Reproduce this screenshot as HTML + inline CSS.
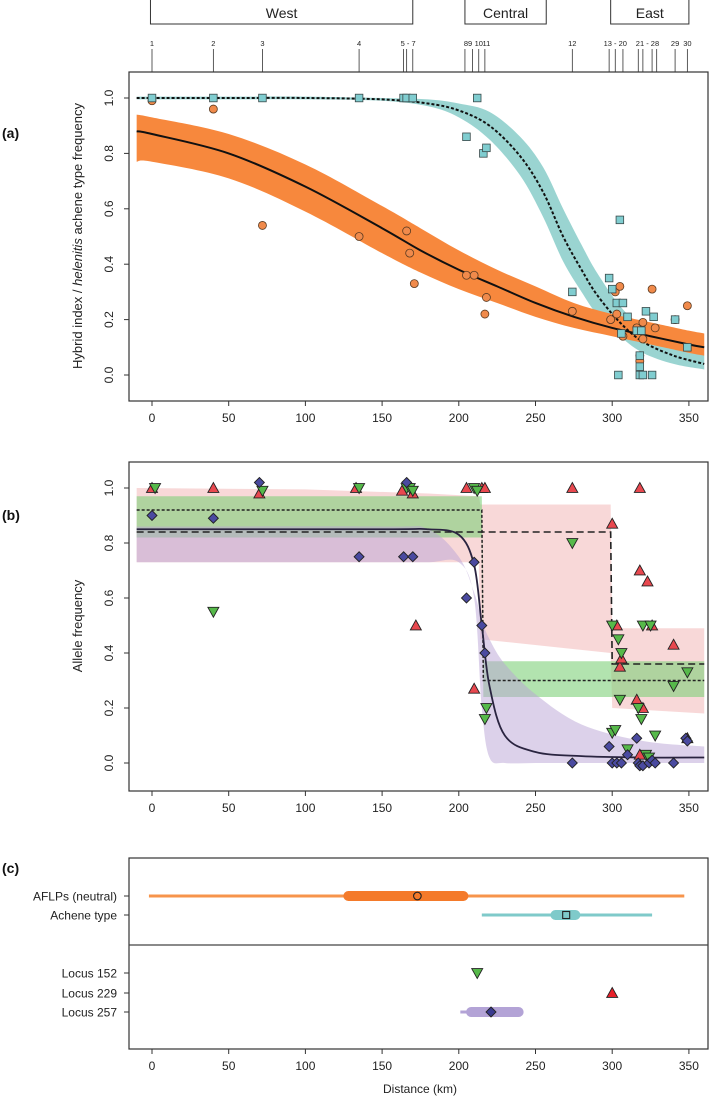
<!DOCTYPE html>
<html><head><meta charset="utf-8"><style>
body{margin:0;background:#fff;}
svg{display:block;font-family:"Liberation Sans",sans-serif;}
</style></head><body>
<svg id="fig" width="709" height="1104" viewBox="0 0 709 1104" xmlns="http://www.w3.org/2000/svg"></svg>
<script>
// ---------- data ----------
const siteKm = [0,40,72,135,164,166,170,204,209,213,217,274,298,302,307,317,320,326,329,341,349];
const siteLabels = [["1",0],["2",40],["3",72],["4",135],["5 - 7",167],["89",206],["10",213],["11",218],["12",274],["13 - 20",302],["21 - 28",323],["29",341],["30",349]];
const regions = [["West",-1,170],["Central",204,257],["East",299,350]];
const xTicks = [0,50,100,150,200,250,300,350];
const yTicks = [0,0.2,0.4,0.6,0.8,1.0];

const aflpX = [0,40,72,135,166,168,171,205,210,217,218,274,299,302,305,307,318,318,320,320,326,328,341,349,303,316];
const aflpY = [0.99,0.96,0.54,0.50,0.52,0.44,0.33,0.36,0.36,0.22,0.28,0.23,0.20,0.30,0.32,0.14,0.07,0.05,0.13,0.19,0.31,0.17,0.20,0.25,0.22,0.17];
const achX = [0,40,72,135,164,166,170,205,212,216,218,274,298,300,303,304,305,306,307,310,316,318,318,318,319,320,322,326,327,341,349];
const achY = [1,1,1,1,1,1,1,0.86,1,0.80,0.82,0.30,0.35,0.31,0.26,0,0.56,0.15,0.26,0.21,0.16,0.07,0.03,0,0.16,0,0.23,0,0.21,0.20,0.10];

const curveX = [-10,0,50,100,150,175,200,225,250,275,300,325,350,360];
const aflpFit = [0.88,0.87,0.80,0.68,0.53,0.45,0.38,0.32,0.26,0.21,0.17,0.14,0.11,0.10];
const aflpHi  = [0.94,0.93,0.87,0.76,0.61,0.53,0.45,0.38,0.32,0.26,0.22,0.19,0.16,0.15];
const aflpLo  = [0.77,0.77,0.71,0.59,0.44,0.37,0.31,0.26,0.21,0.17,0.14,0.11,0.08,0.07];

const achCX = [-10,50,100,150,180,200,220,240,255,268,280,290,305,320,340,360];
const achFit = [1,1,1,0.995,0.98,0.955,0.90,0.79,0.66,0.50,0.38,0.29,0.19,0.12,0.07,0.04];
const achHi  = [1.005,1.005,1.005,1.0,0.995,0.98,0.95,0.86,0.75,0.60,0.47,0.37,0.25,0.17,0.10,0.07];
const achLo  = [0.995,0.995,0.995,0.99,0.97,0.93,0.85,0.72,0.57,0.41,0.30,0.22,0.14,0.08,0.04,0.02];

const l229X = [0,40,70,133,163,170,172,205,215,217,210,274,300,303,305,306,318,318,323,326,340,349,316,320,318];
const l229Y = [1,1,0.98,1,0.99,0.98,0.50,1,1,1,0.27,1,0.87,0.50,0.35,0.38,1,0.70,0.66,0.50,0.43,0.09,0.23,0.20,0.03];
const l152X = [2,40,72,135,166,168,170,210,212,218,217,274,300,300,302,304,306,305,310,317,319,320,322,324,325,340,349,328];
const l152Y = [1,0.55,0.99,1,1,1,0.99,1,0.99,0.20,0.16,0.80,0.50,0.11,0.12,0.45,0.40,0.23,0.05,0.20,0.16,0.50,0.03,0.02,0.50,0.28,0.33,0.10];
const l257X = [0,40,70,135,164,166,170,205,210,215,217,274,298,300,303,306,310,316,317,318,320,324,326,328,340,348,349];
const l257Y = [0.9,0.89,1.02,0.75,0.75,1.02,0.75,0.60,0.73,0.50,0.40,0,0.06,0,0,0,0.03,0.09,0,-0.01,-0.01,0,0.01,0,0,0.09,0.08];

const bandX   = [-10,100,180,213,214,299,300,360];
const redHi   = [1.0,0.995,0.98,0.97,0.94,0.94,0.49,0.49];
const redLo   = [0.73,0.73,0.73,0.73,0.45,0.40,0.20,0.18];
const redFit  = [0.84,0.84,0.84,0.84,0.84,0.84,0.36,0.36];
const grnX    = [-10,213,215,216,360];
const grnHi   = [0.97,0.97,0.97,0.37,0.37];
const grnLo   = [0.82,0.82,0.82,0.24,0.24];
const grnFit  = [0.92,0.92,0.92,0.30,0.30];
const purX    = [-10,150,180,200,210,215,220,230,250,280,320,360];
const purFit  = [0.85,0.85,0.85,0.83,0.72,0.50,0.28,0.10,0.04,0.025,0.02,0.02];
const purHi   = [0.86,0.86,0.85,0.75,0.62,0.52,0.45,0.36,0.25,0.14,0.08,0.06];
const purLo   = [0.73,0.73,0.73,0.73,0.60,0.20,0.02,0.0,0.0,0.0,0.0,0.0];

const cRows = ["AFLPs (neutral)","Achene type","Locus 152","Locus 229","Locus 257"];
const cCentre = [173,270,212,300,221];
const cInner = [[128,203],[263,276],[212,212],[300,300],[208,239]];
const cOuter = [[-2,347],[215,326],[212,212],[300,300],[201,239]];

// ---------- scales ----------
const X = km => 152 + km*1.534;
const Ya = v => 375 - v*277;
const Yb = v => 763 - v*275;
const cRowY = [896,915,973,993,1012];

const svg = document.getElementById('fig');
const NS = 'http://www.w3.org/2000/svg';
function mk(tag, attrs, parent){const e=document.createElementNS(NS,tag);for(const k in attrs)e.setAttribute(k,attrs[k]);(parent||svg).appendChild(e);return e;}
function txt(s,attrs,parent){const e=mk('text',attrs,parent);e.textContent=s;return e;}
function smooth(xs,ys,fx,fy){let pts=xs.map((x,i)=>[fx(x),fy(ys[i])]);let d='M'+pts[0][0]+','+pts[0][1];
 for(let i=0;i<pts.length-1;i++){const p0=pts[Math.max(0,i-1)],p1=pts[i],p2=pts[i+1],p3=pts[Math.min(pts.length-1,i+2)];
 const c1=[p1[0]+(p2[0]-p0[0])/6,p1[1]+(p2[1]-p0[1])/6],c2=[p2[0]-(p3[0]-p1[0])/6,p2[1]-(p3[1]-p1[1])/6];
 d+=` C${c1[0]},${c1[1]} ${c2[0]},${c2[1]} ${p2[0]},${p2[1]}`;}return d;}
function lin(xs,ys,fx,fy){return xs.map((x,i)=>(i?'L':'M')+fx(x)+','+fy(ys[i])).join(' ');}
function band(xs,hi,lo,fy,sm){const top=(sm?smooth:lin)(xs,hi,X,fy);const rx=xs.slice().reverse(),rl=lo.slice().reverse();
 const bot=(sm?smooth:lin)(rx,rl,X,fy).replace(/^M/,'L');return top+' '+bot+' Z';}

// ---------- region boxes & sites ----------
regions.forEach(r=>{
 const g=mk('g',{});
 
 
 mk('rect',{x:X(r[1]),y:-1,width:X(r[2])-X(r[1]),height:25,fill:'#fff',stroke:'#333','stroke-width':1},g);
 txt(r[0],{x:(X(r[1])+X(r[2]))/2,y:18,'text-anchor':'middle','font-size':14,fill:'#222'},g);
});
const sg=mk('g',{});


siteKm.forEach(k=>mk('line',{x1:X(k),x2:X(k),y1:49,y2:72,stroke:'#333','stroke-width':0.8},sg));
siteLabels.forEach(s=>txt(s[0],{x:X(s[1]),y:46,'text-anchor':'middle','font-size':7.5,fill:'#222'},sg));

// ---------- axes helper ----------
function frame(name,top,bottom,yfun,ticks,title,titleY,label,labelY){
 const g=mk('g',{});
 
 
 mk('rect',{x:129,y:top,width:579,height:bottom-top,fill:'none',stroke:'#333','stroke-width':1.2},g);
 xTicks.forEach(t=>{mk('line',{x1:X(t),x2:X(t),y1:bottom,y2:bottom+5,stroke:'#333'},g);
  txt(String(t),{x:X(t),y:bottom+21,'text-anchor':'middle','font-size':12,fill:'#222'},g);});
 if(ticks){ticks.forEach(t=>{const y=yfun(t);mk('line',{x1:124,x2:129,y1:y,y2:y,stroke:'#333'},g);
  txt(t.toFixed(1),{x:0,y:0,'text-anchor':'middle','font-size':12,fill:'#222',transform:`translate(113,${y}) rotate(-90)`},g);});}
 txt(label,{x:2,y:labelY,'font-size':14,'font-weight':'bold',fill:'#111'},g);
 return g;
}
frame('panel-a-axes',72,401,Ya,yTicks,'',0,'(a)',138);
frame('panel-b-axes',462,791,Yb,yTicks,'',0,'(b)',520);
const gc=frame('panel-c-axes',858,1049,null,null,'',0,'(c)',873);
mk('line',{x1:129,x2:708,y1:945,y2:945,stroke:'#444','stroke-width':1.2},gc);

const ta=txt('',{x:0,y:0,'text-anchor':'middle','font-size':13,fill:'#222',transform:'translate(82,236) rotate(-90)'});

ta.innerHTML='Hybrid index / <tspan font-style="italic">helenitis</tspan> achene type frequency';
const tb=txt('Allele frequency',{x:0,y:0,'text-anchor':'middle','font-size':13,fill:'#222',transform:'translate(82,626) rotate(-90)'});

const tc=txt('Distance (km)',{x:420,y:1093,'text-anchor':'middle','font-size':12,fill:'#222'});


// ---------- panel a ----------
const clipA=mk('clipPath',{id:'ca'});mk('rect',{x:129,y:72,width:579,height:329},clipA);
const clipB=mk('clipPath',{id:'cb'});mk('rect',{x:129,y:462,width:579,height:329},clipB);
const pa=mk('g',{'clip-path':'url(#ca)'});

let e;
e=mk('path',{d:band(achCX,achHi,achLo,Ya,true),fill:'#8fcfcc',opacity:0.9},pa);

e=mk('path',{d:band(curveX,aflpHi,aflpLo,Ya,true),fill:'#f7883d'},pa);

e=mk('path',{d:smooth(curveX,aflpFit,X,Ya),fill:'none',stroke:'#111','stroke-width':2},pa);

e=mk('path',{d:smooth(achCX,achFit,X,Ya),fill:'none',stroke:'#111','stroke-width':2,'stroke-dasharray':'3,2'},pa);

aflpX.forEach((x,i)=>{const c=mk('circle',{cx:X(x),cy:Ya(aflpY[i]),r:4,fill:'#f08a4b',stroke:'#5a3a20','stroke-width':0.8},pa);
 });
achX.forEach((x,i)=>{const r=mk('rect',{x:X(x)-3.8,y:Ya(achY[i])-3.8,width:7.6,height:7.6,fill:'#80cdd0',stroke:'#3a4a4a','stroke-width':0.8},pa);
 });

// ---------- panel b ----------
const pb=mk('g',{'clip-path':'url(#cb)'});

e=mk('path',{d:band(bandX,redHi,redLo,Yb,false),fill:'#f2b8b8',opacity:0.55},pb);

e=mk('path',{d:band(grnX,grnHi,grnLo,Yb,false),fill:'#7fd07a',opacity:0.6},pb);

e=mk('path',{d:band(purX,purHi,purLo,Yb,true),fill:'#b9a3d6',opacity:0.5},pb);

e=mk('path',{d:lin(bandX,redFit,X,Yb),fill:'none',stroke:'#222','stroke-width':1.6,'stroke-dasharray':'7,4'},pb);

e=mk('path',{d:lin(grnX,grnFit,X,Yb),fill:'none',stroke:'#222','stroke-width':1.5,'stroke-dasharray':'3,2'},pb);

e=mk('path',{d:smooth(purX,purFit,X,Yb),fill:'none',stroke:'#2a2440','stroke-width':1.8},pb);

function tri(x,y,up,fill,name,parent){const s=5.5;const d=up?`M${x},${y-s} L${x+s},${y+s*0.8} L${x-s},${y+s*0.8}Z`:`M${x},${y+s} L${x+s},${y-s*0.8} L${x-s},${y-s*0.8}Z`;
 const p=mk('path',{d:d,fill:fill,stroke:'#222','stroke-width':0.9},parent);}
function dia(x,y,fill,name,parent){const s=5;const p=mk('path',{d:`M${x},${y-s} L${x+s},${y} L${x},${y+s} L${x-s},${y}Z`,fill:fill,stroke:'#222','stroke-width':0.9},parent);
 }
l229X.forEach((x,i)=>tri(X(x),Yb(l229Y[i]),true,'#e8484f','locus229-point',pb));
l152X.forEach((x,i)=>tri(X(x),Yb(l152Y[i]),false,'#56b94a','locus152-point',pb));
l257X.forEach((x,i)=>dia(X(x),Yb(l257Y[i]),'#4a4aa0','locus257-point',pb));

// ---------- panel c ----------
const pc=mk('g',{});

const outerCol=['#f7944b','#7fcaca','#56b94a','#e8484f','#b3a3d6'];
const innerCol=['#f47a2a','#7fcaca','#56b94a','#e8484f','#b3a3d6'];
cRows.forEach((name,i)=>{
 const y=cRowY[i];
 const lab=txt(name,{x:117,y:y+4.5,'text-anchor':'end','font-size':12,fill:'#222'},pc);
 
 mk('line',{x1:124,x2:129,y1:y,y2:y,stroke:'#333'},pc);
 if(cOuter[i][1]>cOuter[i][0]){const l=mk('line',{x1:X(cOuter[i][0]),x2:X(cOuter[i][1]),y1:y,y2:y,stroke:outerCol[i],'stroke-width':3},pc);
  }
 if(cInner[i][1]>cInner[i][0]){const l=mk('line',{x1:X(cInner[i][0]),x2:X(cInner[i][1]),y1:y,y2:y,stroke:innerCol[i],'stroke-width':10,'stroke-linecap':'round'},pc);
  }
 const cx=X(cCentre[i]);
 if(i===0){const c=mk('circle',{cx:cx,cy:y,r:3.8,fill:'none',stroke:'#222','stroke-width':1.1},pc);}
 else if(i===1){const r=mk('rect',{x:cx-3.5,y:y-3.5,width:7,height:7,fill:'none',stroke:'#222','stroke-width':1.1},pc);}
 else if(i===2)tri(cx,y,false,'#56b94a','centre-marker',pc);
 else if(i===3)tri(cx,y,true,'#e8202a','centre-marker',pc);
 else dia(cx,y,'#3a3a90','centre-marker',pc);
});
</script>
</body></html>
